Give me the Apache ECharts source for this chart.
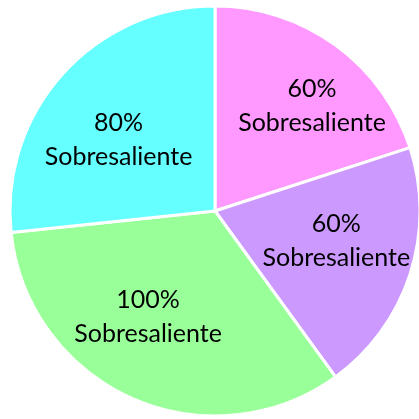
<!DOCTYPE html>
<html><head><meta charset="utf-8">
<script src="https://cdn.jsdelivr.net/npm/echarts@6/dist/echarts.min.js"></script>
<style>html,body{margin:0;padding:0;background:#fff}#c{width:419px;height:419px}</style>
</head><body><div id="c"></div>
<script>
const categories = ['A', 'B', 'C', 'D'];
const values = [60, 60, 100, 80];
const labels = ['60%\nSobresaliente', '60%\nSobresaliente', '100%\nSobresaliente', '80%\nSobresaliente'];
const colors = ['#FF99FF', '#CC99FF', '#99FF99', '#66FFFF'];
const offsets = [[35, -20], [21, -3], [-24, 10], [-18, 0]];

const chart = echarts.init(document.getElementById('c'), null, {renderer: 'canvas'});
chart.setOption({
  animation: false,
  series: [{
    type: 'pie',
    center: [215, 211],
    radius: [0, 205],
    startAngle: 90,
    clockwise: true,
    itemStyle: {borderColor: '#fff', borderWidth: 3},
    label: {
      position: 'inside',
      color: '#000',
      fontFamily: 'Lato',
      fontSize: 25,
      lineHeight: 34,
      formatter: p => labels[p.dataIndex]
    },
    labelLine: {show: false},
    data: categories.map((n, i) => ({
      name: n, value: values[i],
      itemStyle: {color: colors[i]},
      label: {offset: offsets[i]}
    }))
  }]
});
</script></body></html>
